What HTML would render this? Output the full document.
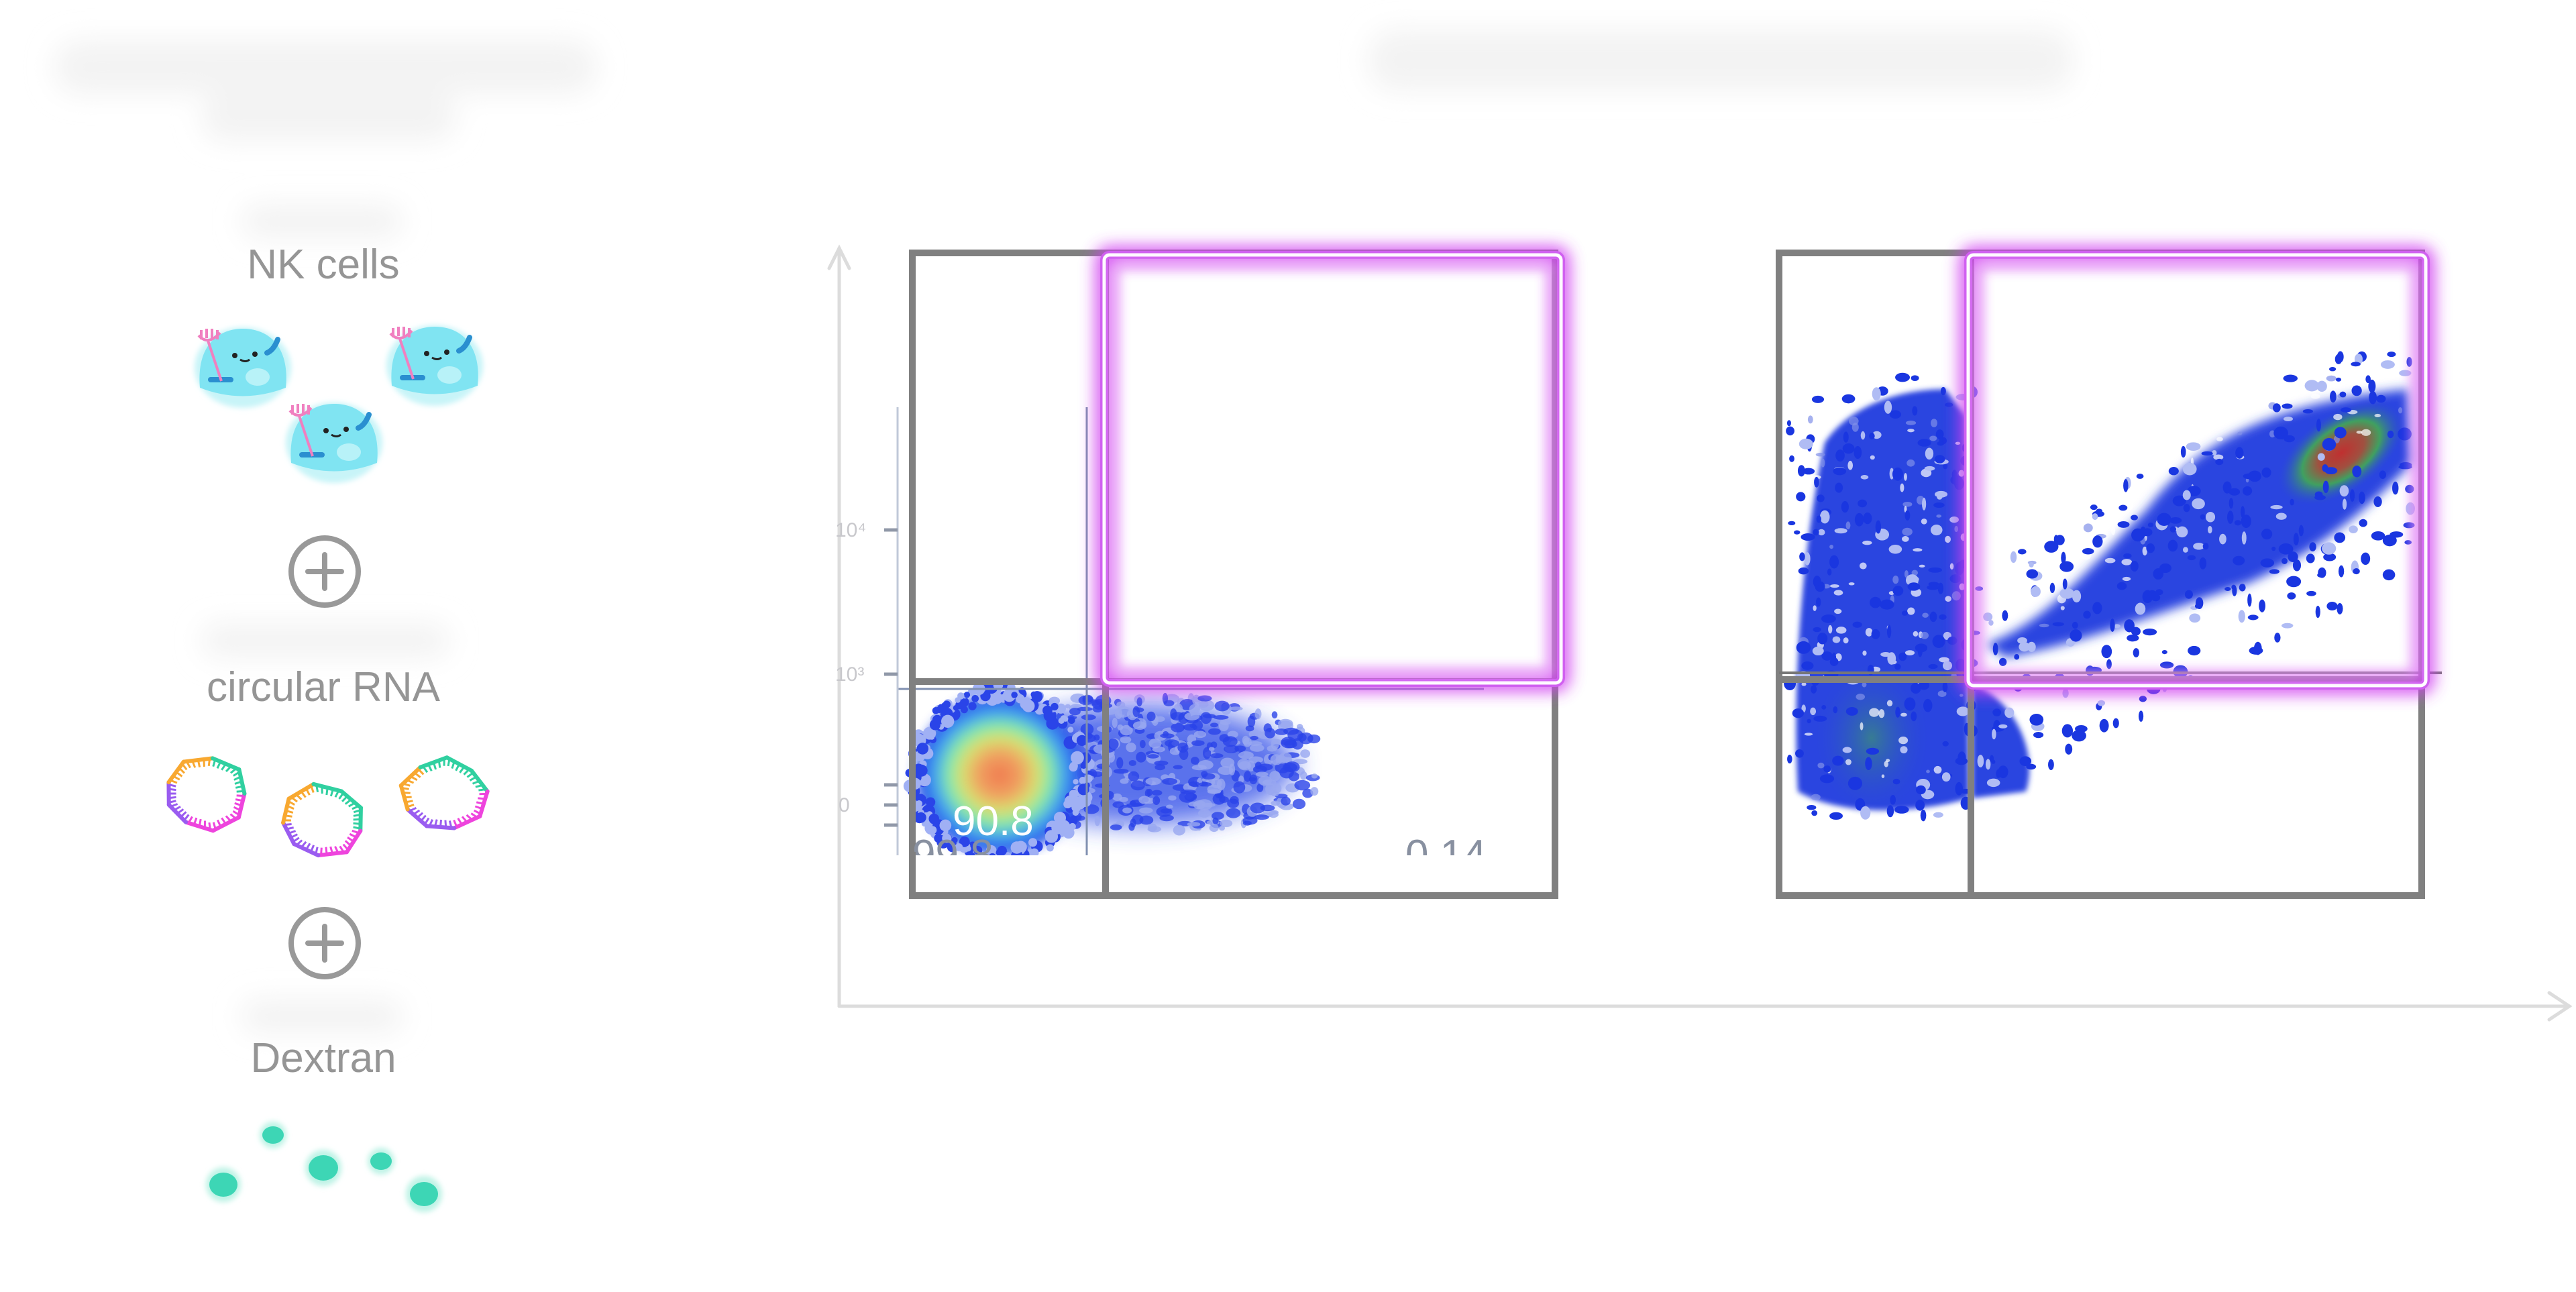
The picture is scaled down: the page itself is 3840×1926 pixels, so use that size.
<!DOCTYPE html>
<html><head><meta charset="utf-8">
<style>
html,body{margin:0;padding:0;background:#fff;}
body{width:3840px;height:1926px;overflow:hidden;position:relative;font-family:"Liberation Sans",sans-serif;}
svg{position:absolute;left:0;top:0;}
</style></head>
<body>
<svg id="s" width="3840" height="1926" viewBox="0 0 3840 1926" xmlns="http://www.w3.org/2000/svg">
<defs>
  <filter id="b20" x="-50%" y="-50%" width="200%" height="200%"><feGaussianBlur stdDeviation="20"/></filter>
  <filter id="b8" x="-50%" y="-50%" width="200%" height="200%"><feGaussianBlur stdDeviation="8"/></filter>
  <filter id="b4" x="-50%" y="-50%" width="200%" height="200%"><feGaussianBlur stdDeviation="4"/></filter>
  <filter id="glow" x="-20%" y="-20%" width="140%" height="140%"><feGaussianBlur stdDeviation="12"/></filter>
  <radialGradient id="hot" cx="50%" cy="50%" r="50%">
    <stop offset="0" stop-color="#f07a50"/>
    <stop offset="0.25" stop-color="#f0a060"/>
    <stop offset="0.45" stop-color="#d8e070"/>
    <stop offset="0.62" stop-color="#80e8b0"/>
    <stop offset="0.78" stop-color="#40a0f0"/>
    <stop offset="1" stop-color="#2a40e8"/>
  </radialGradient>
  <radialGradient id="hot2" cx="50%" cy="50%" r="50%">
    <stop offset="0" stop-color="#c03030"/>
    <stop offset="0.35" stop-color="#a05040"/>
    <stop offset="0.6" stop-color="#40a060"/>
    <stop offset="1" stop-color="#2a40e0" stop-opacity="0"/>
  </radialGradient>
  <radialGradient id="green" cx="50%" cy="50%" r="50%">
    <stop offset="0" stop-color="#40a060" stop-opacity="0.6"/>
    <stop offset="1" stop-color="#2a40e0" stop-opacity="0"/>
  </radialGradient>
</defs>

<!-- blurred titles -->
<g filter="url(#b20)" fill="#f3f3f3">
  <rect x="80" y="60" width="810" height="80" rx="40"/>
  <rect x="300" y="140" width="380" height="70" rx="35"/>
  <rect x="2040" y="45" width="1050" height="90" rx="40"/>
  <rect x="360" y="305" width="240" height="50" rx="25"/>
  <rect x="300" y="930" width="370" height="50" rx="25"/>
  <rect x="360" y="1490" width="240" height="50" rx="25"/>
</g>

<g font-family="Liberation Sans, sans-serif" fill="#959595" font-size="62" text-anchor="middle">
  <text x="482" y="415">NK cells</text>
  <text x="482" y="1045">circular RNA</text>
  <text x="482" y="1598">Dextran</text>
</g>

<g id="cell"></g>

<g fill="none" stroke="#999" stroke-width="8" stroke-linecap="round">
  <circle cx="484" cy="852" r="50"/>
  <line x1="459" y1="852" x2="509" y2="852"/><line x1="484" y1="827" x2="484" y2="877"/>
  <circle cx="484" cy="1406" r="50"/>
  <line x1="459" y1="1406" x2="509" y2="1406"/><line x1="484" y1="1381" x2="484" y2="1431"/>
</g>

<g fill="#3dd6b5">
  <g filter="url(#b4)" fill="#bff3e6">
    <circle cx="407" cy="1692" r="20"/><circle cx="333" cy="1766" r="26"/><circle cx="482" cy="1741" r="27"/><circle cx="568" cy="1731" r="20"/><circle cx="632" cy="1780" r="27"/>
  </g>
  <ellipse cx="407" cy="1692" rx="16" ry="13"/>
  <ellipse cx="333" cy="1766" rx="21" ry="18"/>
  <ellipse cx="482" cy="1741" rx="22" ry="19"/>
  <ellipse cx="568" cy="1731" rx="16" ry="13"/>
  <ellipse cx="632" cy="1780" rx="21" ry="18"/>
</g>

<g stroke="#dcdcdc" stroke-width="5" fill="none" stroke-linecap="round">
  <line x1="1251" y1="370" x2="1251" y2="1500"/>
  <polyline points="1236,400 1251,370 1266,400"/>
  <line x1="1251" y1="1500" x2="3830" y2="1500"/>
  <polyline points="3800,1480 3830,1500 3800,1520"/>
</g>

<g id="scat"></g>

<g stroke="#8090b0" stroke-width="3" fill="none">
  <line x1="1620" y1="607" x2="1620" y2="1275"/>
  <line x1="1338" y1="1027" x2="2212" y2="1027"/>
  <line x1="1338" y1="607" x2="1338" y2="1275" stroke="#c0c8d8"/>
</g>
<g font-family="Liberation Sans, sans-serif" fill="#c8c8cc" font-size="30">
  <text x="1245" y="800">10⁴</text><text x="1245" y="1015">10³</text><text x="1250" y="1210">0</text>
</g>
<g stroke="#9098a8" stroke-width="5">
  <line x1="1318" y1="1170" x2="1338" y2="1170"/><line x1="1318" y1="1200" x2="1338" y2="1200"/>
  <line x1="1318" y1="1230" x2="1338" y2="1230"/><line x1="1318" y1="1005" x2="1338" y2="1005"/>
  <line x1="1318" y1="790" x2="1338" y2="790"/>
</g>

<g stroke="#808080" stroke-width="10" fill="none">
  <rect x="1360" y="377" width="958" height="958"/>
  <line x1="1648" y1="377" x2="1648" y2="1335"/>
  <line x1="1360" y1="1016" x2="2318" y2="1016"/>
</g>
<text x="1420" y="1245" font-family="Liberation Sans, sans-serif" font-size="62" fill="#fff">90.8</text>
<text x="1360" y="1295" font-family="Liberation Sans, sans-serif" font-size="62" fill="#8890a0">99.8</text>
<text x="2095" y="1295" font-family="Liberation Sans, sans-serif" font-size="62" fill="#8890a0">0.14</text>
<rect x="1340" y="1275" width="1000" height="55" fill="#fff"/>
<g stroke="#808080" stroke-width="10" fill="none">
  <line x1="1360" y1="1270" x2="1360" y2="1335"/><line x1="1648" y1="1270" x2="1648" y2="1335"/><line x1="2318" y1="1270" x2="2318" y2="1335"/>
</g>

<g stroke="#808080" stroke-width="10" fill="none">
  <rect x="2652" y="377" width="958" height="958"/>
  <line x1="2938" y1="377" x2="2938" y2="1335"/>
  <line x1="2652" y1="1013" x2="3610" y2="1013"/>
</g>
<line x1="2652" y1="1003" x2="3640" y2="1003" stroke="#777" stroke-width="4"/>

<g>
  <rect x="1646" y="380" width="681" height="638" rx="8" fill="none" stroke="#d040f0" stroke-width="26" filter="url(#glow)" opacity="0.9"/>
  <rect x="1646" y="380" width="681" height="638" rx="8" fill="none" stroke="#d060f0" stroke-width="12"/>
  <rect x="1646" y="380" width="681" height="638" rx="8" fill="none" stroke="#fff" stroke-width="5"/>
  <rect x="1662" y="396" width="649" height="606" fill="none" stroke="#e8a0f8" stroke-width="8" filter="url(#b8)"/>
  <rect x="2934" y="380" width="682" height="642" rx="8" fill="none" stroke="#d040f0" stroke-width="26" filter="url(#glow)" opacity="0.9"/>
  <rect x="2934" y="380" width="682" height="642" rx="8" fill="none" stroke="#d060f0" stroke-width="12"/>
  <rect x="2934" y="380" width="682" height="642" rx="8" fill="none" stroke="#fff" stroke-width="5"/>
  <rect x="2950" y="396" width="650" height="610" fill="none" stroke="#e8a0f8" stroke-width="8" filter="url(#b8)"/>
</g>
</svg>
<script>
(function(){
var NS="http://www.w3.org/2000/svg";
var s=document.getElementById("s");
var seed=12345;function r(){seed=(seed*16807)%2147483647;return seed/2147483647;}
function el(t,a,p){var e=document.createElementNS(NS,t);for(var k in a)e.setAttribute(k,a[k]);(p||s).appendChild(e);return e;}
var cg=document.getElementById("cell");
[[362,548],[648,545],[498,660]].forEach(function(c){
  var x=c[0],y=c[1];
  el("ellipse",{cx:x,cy:y,rx:72,ry:60,fill:"#c8f4f8",filter:"url(#b4)"},cg);
  el("path",{d:"M"+(x-64)+" "+(y+30)+" C"+(x-70)+" "+(y-40)+" "+(x-30)+" "+(y-58)+" "+x+" "+(y-58)+" C"+(x+40)+" "+(y-58)+" "+(x+70)+" "+(y-30)+" "+(x+64)+" "+(y+30)+" Q"+x+" "+(y+55)+" "+(x-64)+" "+(y+30)+"Z",fill:"#80e4f2"},cg);
  el("ellipse",{cx:x+22,cy:y+14,rx:18,ry:13,fill:"#b8f2f8"},cg);
  el("circle",{cx:x-12,cy:y-18,r:4,fill:"#222"},cg);
  el("circle",{cx:x+18,cy:y-20,r:4,fill:"#222"},cg);
  el("path",{d:"M"+(x-4)+" "+(y-12)+" q8 5 14 0",stroke:"#222","stroke-width":3,fill:"none"},cg);
  el("path",{d:"M"+(x+36)+" "+(y-22)+" q10 -4 16 -20",stroke:"#2a8fd0","stroke-width":8,fill:"none","stroke-linecap":"round"},cg);
  el("path",{d:"M"+(x-48)+" "+(y+18)+" h30",stroke:"#2a8fd0","stroke-width":8,"stroke-linecap":"round"},cg);
  el("path",{d:"M"+(x-52)+" "+(y-40)+" l20 60 M"+(x-66)+" "+(y-48)+" q14 16 32 -4 M"+(x-62)+" "+(y-56)+" v14 M"+(x-54)+" "+(y-58)+" v14 M"+(x-46)+" "+(y-58)+" v14 M"+(x-38)+" "+(y-56)+" v14",stroke:"#f080c0","stroke-width":4,fill:"none"},cg);
});
var cols=["#ee44dd","#9a5cf0","#f8a830","#30d0a0"];
[[306,1183,0],[482,1224,1],[661,1185,2]].forEach(function(c){
  var x=c[0],y=c[1],n=9,R=64,pts=[];
  for(var i=0;i<n;i++){var a=i/n*Math.PI*2+c[2];var rr=R*(0.9+0.14*r());pts.push([x+rr*Math.cos(a),y+rr*0.85*Math.sin(a)]);}
  for(var i=0;i<n;i++){var p=pts[i],q=pts[(i+1)%n];var col=cols[Math.floor((i+c[2]*2)/2.3)%4];
    el("line",{x1:p[0],y1:p[1],x2:q[0],y2:q[1],stroke:col,"stroke-width":6,"stroke-linecap":"round"});
    for(var t=0.1;t<1;t+=0.2){var mx=p[0]+(q[0]-p[0])*t,my=p[1]+(q[1]-p[1])*t;var dx=x-mx,dy=y-my,l=Math.hypot(dx,dy);
      el("line",{x1:mx,y1:my,x2:mx+dx/l*11,y2:my+dy/l*11,stroke:col,"stroke-width":3});}
  }
});
var g=document.getElementById("scat");
el("ellipse",{cx:1700,cy:1140,rx:230,ry:90,fill:"#3050e8",opacity:0.8,filter:"url(#b20)"},g);
for(var i=0;i<700;i++){var x=1520+r()*440,y=1040+r()*200;var d=Math.hypot((x-1660)/300,(y-1140)/100);if(d>1.1||r()<0.3)continue;
  el("ellipse",{cx:x,cy:y,rx:4+r()*8,ry:3+r()*6,fill:r()<0.5?"#2a44e8":"#98a8f0",opacity:0.8},g);}
el("ellipse",{cx:1490,cy:1155,rx:125,ry:120,fill:"url(#hot)",filter:"url(#b8)"},g);
for(var i=0;i<250;i++){var a=r()*6.283,rr=110+r()*25;el("circle",{cx:1490+rr*Math.cos(a),cy:1155+rr*Math.sin(a),r:4+r()*6,fill:r()<0.5?"#2a44e8":"#a0b0f4"},g);}
// plot2 masses
el("path",{d:"M2680 1180 C2670 1000 2690 800 2720 660 C2760 600 2840 580 2900 580 L2930 620 L2935 1190 C2850 1215 2740 1215 2680 1180Z",fill:"#2a44e0",filter:"url(#b4)"},g);
el("ellipse",{cx:2790,cy:1100,rx:90,ry:120,fill:"url(#green)"},g);
el("path",{d:"M2960 960 C3050 930 3120 840 3200 760 C3280 650 3400 600 3590 580 L3595 690 C3520 770 3440 830 3350 870 C3200 920 3100 960 2990 980Z",fill:"#2a44e0",filter:"url(#b8)"},g);
el("path",{d:"M2940 1020 C3000 1040 3040 1120 3020 1180 L2940 1190Z",fill:"#2a44e0",filter:"url(#b4)"},g);
el("ellipse",{cx:3490,cy:675,rx:110,ry:60,fill:"url(#hot2)",transform:"rotate(-35 3490 675)"},g);
// white specks on masses
for(var i=0;i<400;i++){var x=2680+r()*900,y=560+r()*660;
  var inL=x<2930&&y>620&&y<1190, ly=980-(x-2960)*0.6, inR=x>3000&&y>ly-120&&y<ly+10;
  if(!(inL||inR))continue;
  el("ellipse",{cx:x,cy:y,rx:2+r()*6,ry:2+r()*5,fill:r()<0.6?"#ffffff":"#8090e8",opacity:0.7},g);}
for(var i=0;i<1800;i++){var x=2665+r()*930,y=520+r()*720;
  var ok=false;
  if(x<2940&&y>560&&y<1220)ok=r()<0.35;
  else if(x>=2940){var ly=1010-(x-2940)*0.65;if(y>ly-140&&y<ly+200+(x-2940)*0.1)ok=r()<0.45;}
  if(!ok)continue;
  el("ellipse",{cx:x,cy:y,rx:3+r()*8,ry:3+r()*7,fill:r()<0.8?"#1a36e0":"#b0bcf4"},g);}
})();
</script>
</body></html>
